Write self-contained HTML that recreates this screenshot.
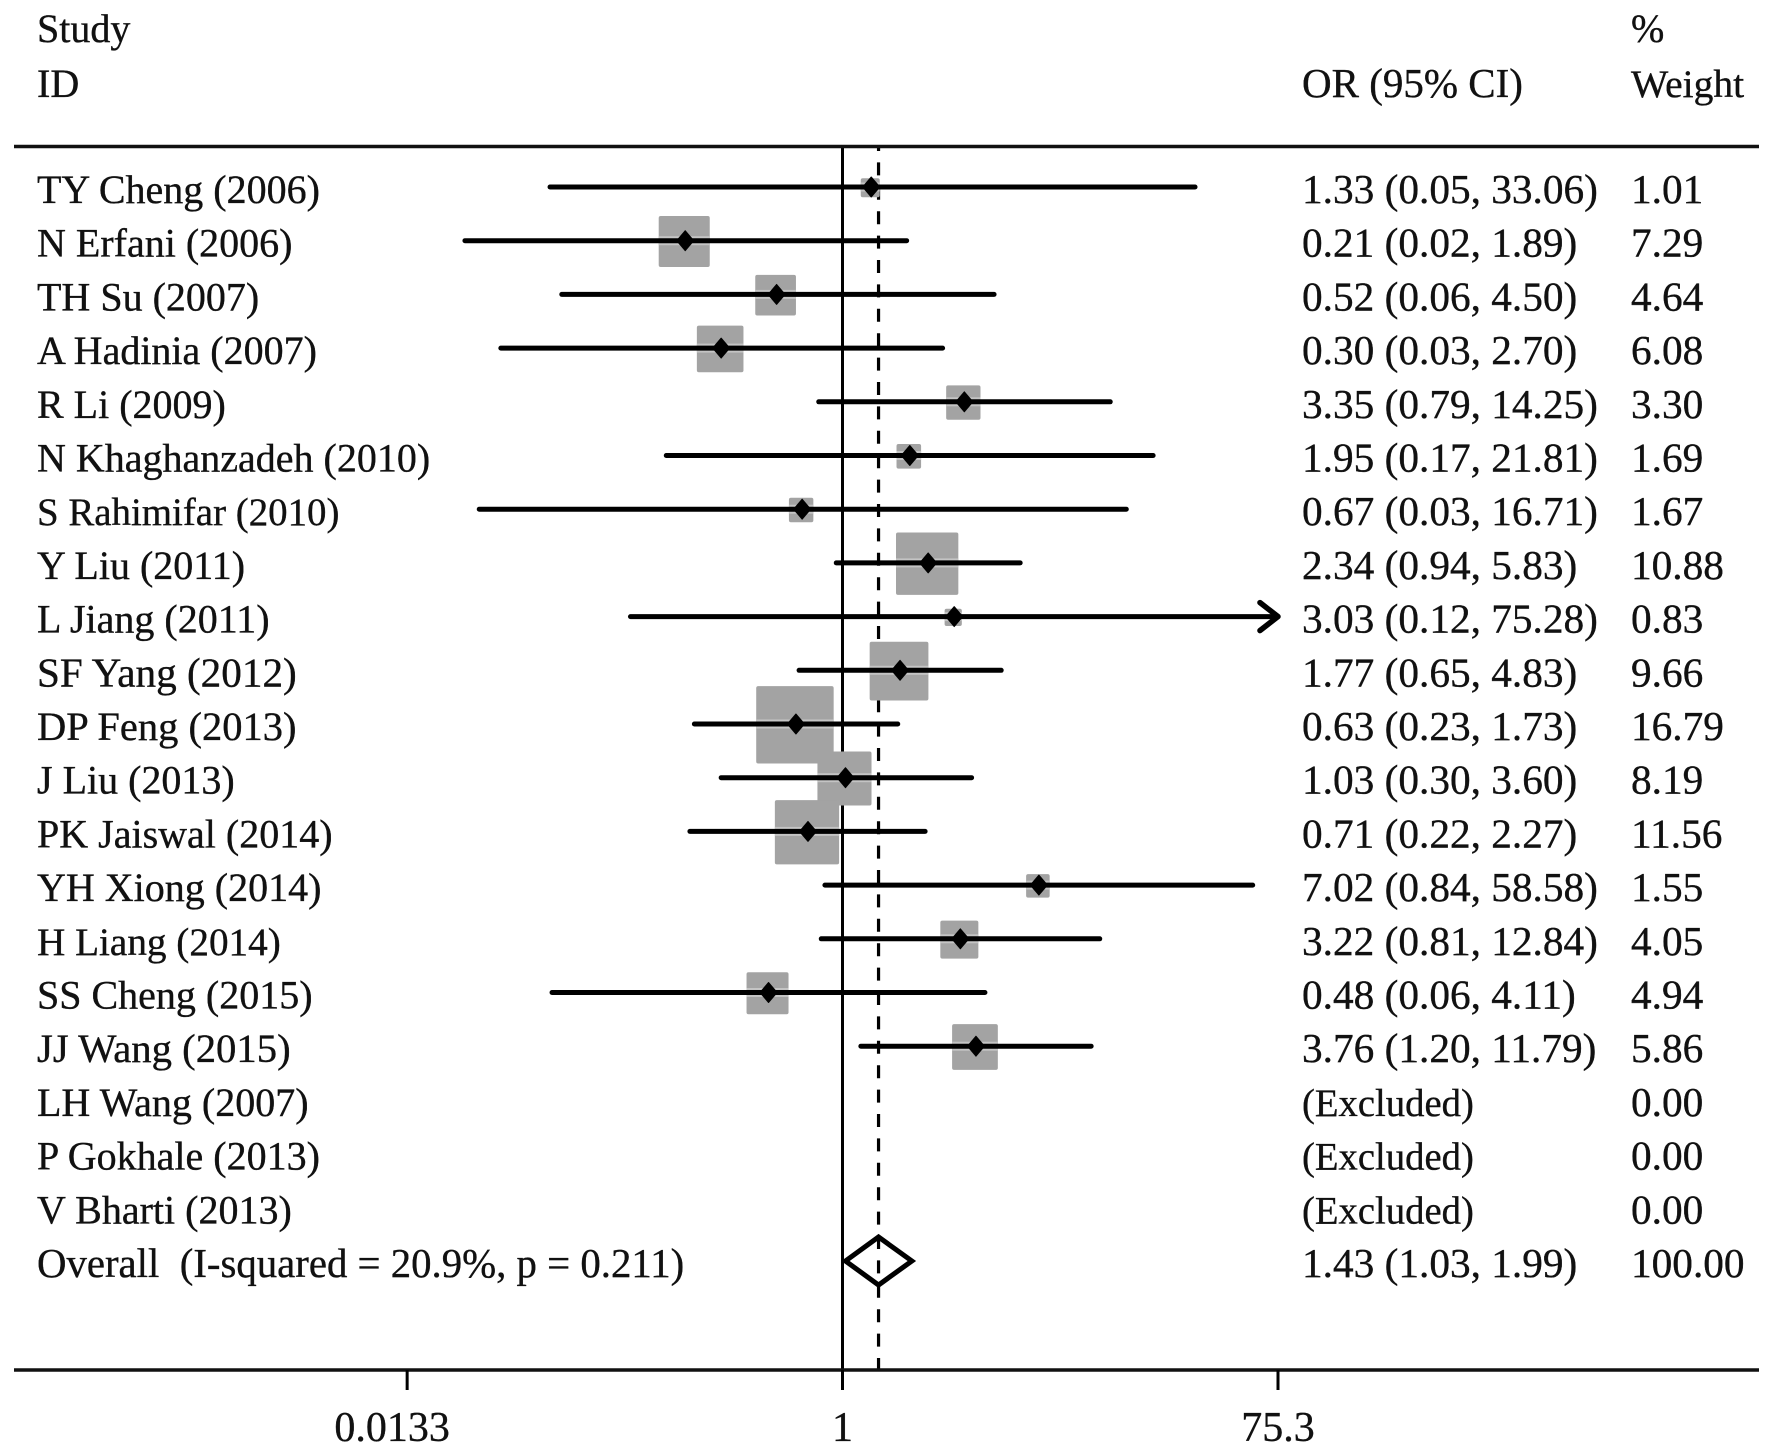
<!DOCTYPE html>
<html lang="en">
<head>
<meta charset="utf-8">
<title>Forest plot</title>
<style>
html,body{margin:0;padding:0;background:#fff;width:1772px;height:1454px;overflow:hidden}
svg{display:block}
text{font-family:"Liberation Serif",serif;font-size:40px;fill:#111;stroke:#111;stroke-width:.35px}
</style>
</head>
<body>
<svg id="chart" xmlns="http://www.w3.org/2000/svg" width="1772" height="1454" viewBox="0 0 1772 1454">
  <rect x="0" y="0" width="1772" height="1454" fill="#fff"/>
  <text x="37" y="42">Study</text>
  <text x="37" y="97">ID</text>
  <text x="1302" y="97" style="font-size:41px">OR (95% CI)</text>
  <text x="1631" y="42">%</text>
  <text x="1631" y="97" style="font-size:39.5px">Weight</text>
  <g id="refs"></g>
  <line x1="14" x2="1759" y1="146.5" y2="146.5" stroke="#111" stroke-width="3.5"/>
  <line x1="14" x2="1759" y1="1370" y2="1370" stroke="#111" stroke-width="3.5"/>
  <g id="marks"></g>
  <g id="lines"></g>
  <g id="labels"></g>
  <g id="axis"></g>
</svg>
<script>
const studies = ["TY Cheng (2006)","N Erfani (2006)","TH Su (2007)","A Hadinia (2007)","R Li (2009)","N Khaghanzadeh (2010)","S Rahimifar (2010)","Y Liu (2011)","L Jiang (2011)","SF Yang (2012)","DP Feng (2013)","J Liu (2013)","PK Jaiswal (2014)","YH Xiong (2014)","H Liang (2014)","SS Cheng (2015)","JJ Wang (2015)","LH Wang (2007)","P Gokhale (2013)","V Bharti (2013)"];
const oddsRatios = [1.33,0.21,0.52,0.30,3.35,1.95,0.67,2.34,3.03,1.77,0.63,1.03,0.71,7.02,3.22,0.48,3.76,null,null,null];
const lowerCI = [0.0549,0.0236,0.0617,0.0337,0.79,0.174,0.0272,0.94,0.122,0.65,0.23,0.30,0.22,0.84,0.81,0.056,1.20,null,null,null];
const upperCI = [33.06,1.89,4.50,2.70,14.25,21.81,16.71,5.83,75.28,4.83,1.73,3.60,2.27,58.58,12.84,4.11,11.79,null,null,null];
const weights = [1.01,7.29,4.64,6.08,3.30,1.69,1.67,10.88,0.83,9.66,16.79,8.19,11.56,1.55,4.05,4.94,5.86,0,0,0];
const overallLabel = "Overall  (I-squared = 20.9%, p = 0.211)";
const overallOR = [1.43];
const overallLower = [1.03];
const overallUpper = [1.99];
const overallWeight = [100];
const tickValues = [0.0133,1,75.3];
const tickLabels = ["0.0133","1","75.3"];

const SVGNS = "http://www.w3.org/2000/svg";
const xOne = 842.5, xMax = 1278, yFirst = 187, rowPitch = 53.7, axisY = 1370;
const valueFont = "font-size:41.3px";
const labelFont = {"S Rahimifar (2010)": 38.9, "SF Yang (2012)": 41.2, "JJ Wang (2015)": 40.7, "H Liang (2014)": 39.2, "DP Feng (2013)": 40.5};
const pxPerLog = (xMax - xOne) / Math.log(tickValues[2]);
function xScale(v){ return xOne + pxPerLog * Math.log(v); }
function yScale(i){ return yFirst + rowPitch * i; }
function boxSide(w){ return 18.9 * Math.sqrt(w); }
function make(tag, attrs, parent){
  const el = document.createElementNS(SVGNS, tag);
  for (const k in attrs) el.setAttribute(k, attrs[k]);
  parent.appendChild(el);
  return el;
}
const gMarks = document.getElementById("marks");
const gRefs = document.getElementById("refs");
const gLines = document.getElementById("lines");
const gLabels = document.getElementById("labels");
const gAxis = document.getElementById("axis");
const ciText = (o,l,u) => o.toFixed(2) + " (" + l.toFixed(2) + ", " + u.toFixed(2) + ")";

const nullLine = make("line", {x1: xScale(1), x2: xScale(1), y1: 146.5, y2: axisY, stroke: "#000", "stroke-width": 3}, gRefs);


const dashLine = make("line", {x1: xScale(overallOR[0]), x2: xScale(overallOR[0]), y1: 146.5, y2: axisY, stroke: "#000", "stroke-width": 3.2, "stroke-dasharray": "13 11.4", "stroke-dashoffset": 8.5}, gRefs);



studies.forEach((name, i) => {
  const y = yScale(i);
  const tBase = y + 16;
  const label = make("text", {x: 37, y: tBase, style: "font-size:" + (labelFont[name] || 40) + "px"}, gLabels);
  label.textContent = name;
  
  
  const excluded = oddsRatios[i] === null;
  const ci = make("text", {x: 1302, y: tBase, style: excluded ? "font-size:38.7px" : valueFont}, gLabels);
  ci.textContent = excluded ? "(Excluded)" : ciText(oddsRatios[i], lowerCI[i], upperCI[i]);
  
  
  const wt = make("text", {x: 1631, y: tBase, style: valueFont}, gLabels);
  wt.textContent = weights[i].toFixed(2);
  
  
  if (excluded) return;
  const cx = xScale(oddsRatios[i]);
  const side = boxSide(weights[i]);
  const boxX = cx - 1 - side / 2;
  const box = make("rect", {x: boxX, y: y + 0.8 - side / 2, width: side, height: side, rx: 2, fill: "#a3a3a3"}, gMarks);
  
  
  const halo = make("rect", {x: boxX, y: y - 4.5, width: side, height: 9, fill: "#c4c4c4"}, gMarks);
  
  
  const atMax = upperCI[i] >= tickValues[2] * 0.99;
  const hi = Math.min(xScale(upperCI[i]), xMax);
  const line = make("line", {x1: xScale(lowerCI[i]), x2: hi, y1: y, y2: y, stroke: "#000", "stroke-width": 5, "stroke-linecap": "round"}, gLines);
  
  
  if (atMax) {
    const arrow = make("path", {d: "M" + (hi - 18) + " " + (y - 14) + "L" + hi + " " + y + "L" + (hi - 18) + " " + (y + 14), fill: "none", stroke: "#000", "stroke-width": 5.5, "stroke-linecap": "round", "stroke-linejoin": "round"}, gLines);
    
    
  }
  const dot = make("path", {d: "M" + cx + " " + (y - 10) + "L" + (cx + 8.5) + " " + y + "L" + cx + " " + (y + 10) + "L" + (cx - 8.5) + " " + y + "Z", fill: "#000", stroke: "#000", "stroke-width": 1, "stroke-linejoin": "round"}, gLines);
  
  
});

const rowOverall = studies.length;
const yOverall = yScale(rowOverall);
const ovLabel = make("text", {x: 37, y: yOverall + 16, style: "white-space:pre;font-size:40.8px"}, gLabels);
ovLabel.textContent = overallLabel;


const ovCi = make("text", {x: 1302, y: yOverall + 16, style: valueFont}, gLabels);
ovCi.textContent = ciText(overallOR[0], overallLower[0], overallUpper[0]);


const ovWt = make("text", {x: 1631, y: yOverall + 16, style: valueFont}, gLabels);
ovWt.textContent = overallWeight[0].toFixed(2);



const diamond = make("path", {d: "M" + xScale(overallLower[0]) + " " + yOverall + "L" + xScale(overallOR[0]) + " " + (yOverall - 24) + "L" + xScale(overallUpper[0]) + " " + yOverall + "L" + xScale(overallOR[0]) + " " + (yOverall + 24) + "Z", fill: "none", stroke: "#000", "stroke-width": 5}, gLines);



tickValues.forEach((v, i) => {
  const tick = make("line", {x1: xScale(v), x2: xScale(v), y1: axisY, y2: axisY + 20, stroke: "#000", "stroke-width": 3}, gAxis);
  
  
  const labelShift = i === 0 ? -15 : 0;
  const lab = make("text", {x: xScale(v) + labelShift, y: 1441, "text-anchor": "middle", style: "font-size:42px"}, gAxis);
  lab.textContent = tickLabels[i];
  
  
});
</script>
</body>
</html>
